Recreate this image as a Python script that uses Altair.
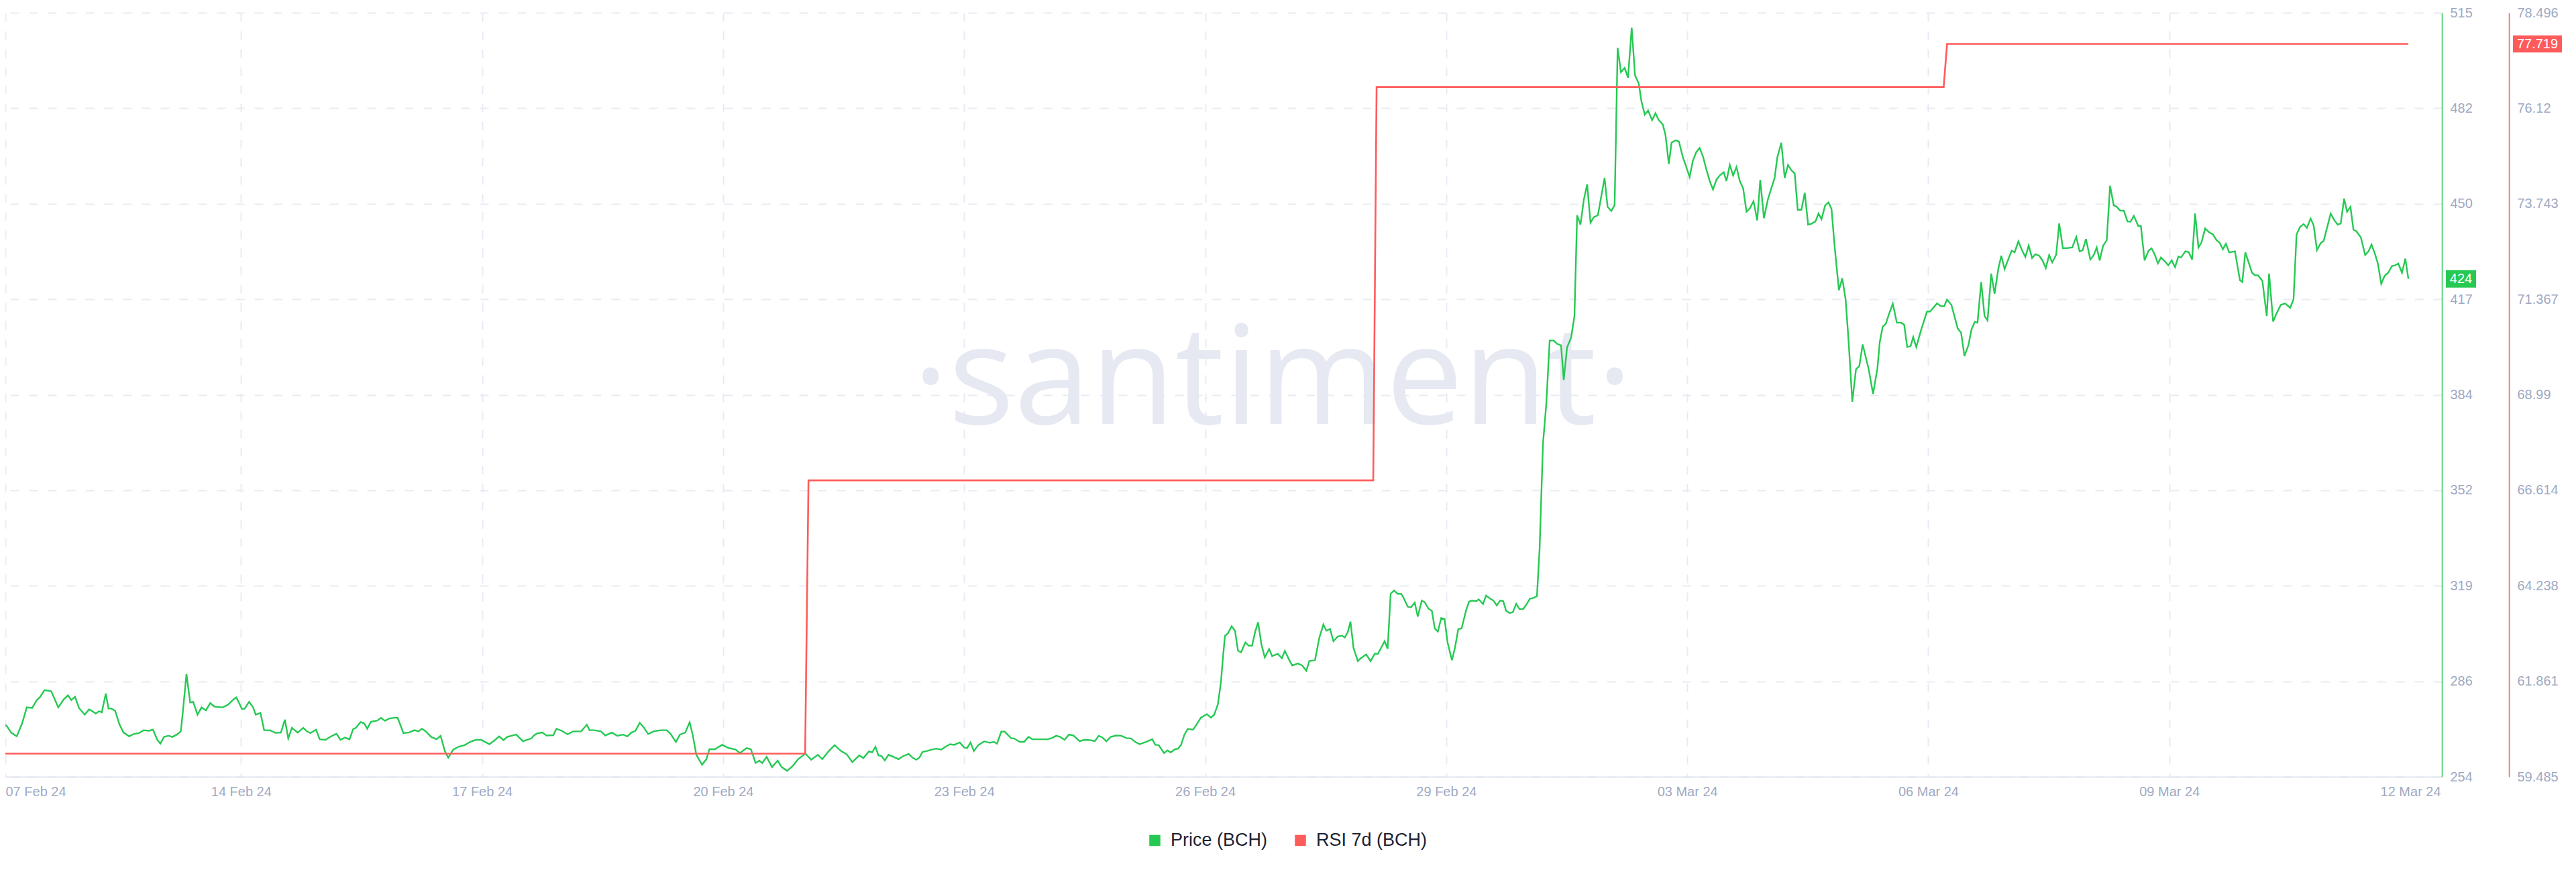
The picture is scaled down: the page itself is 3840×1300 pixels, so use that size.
import altair as alt
import pandas as pd

GREEN = "#26c953"
RED = "#ff5b5b"
AXIS_TEXT = "#a0a9c3"
GRID = "#e8ebf4"
FONT = "Liberation Sans"

START = pd.Timestamp("2024-02-11T00:00:00Z")

# ---------------- data (hours since 11 Feb 2024 00:00 UTC, price in USD) ----------------
price_hours_a = [1.3, 2.0, 3.3, 5.0, 6.6, 8.0, 9.6, 11.0, 12.0, 13.3,
                 15.3, 17.4, 19.1, 20.3, 21.3, 22.4, 23.6, 25.3, 26.6, 27.4,
                 28.6, 29.6, 30.4, 31.6, 32.4, 33.2, 34.4, 35.7, 36.9, 38.6,
                 39.9, 41.5, 42.9, 44.5, 45.7, 47.0, 47.9, 49.0, 50.3, 51.5,
                 52.8, 54.0, 54.5, 55.7, 56.8, 57.7, 59.0, 60.2, 61.5, 62.8,
                 64.0, 66.5, 68.1, 69.8, 70.6, 72.3, 73.1, 74.4, 75.6, 76.4,
                 77.8, 78.9, 80.6, 82.3, 83.9, 85.1, 86.1, 87.2, 88.9, 90.6,
                 91.7, 92.7, 94.4, 95.5, 97.2, 98.9, 100.5, 101.7, 103.0, 104.4,
                 105.5, 106.3, 107.7, 108.8, 109.7, 110.8, 112.7, 113.8, 115.0, 116.3,
                 118.0, 118.8, 120.5, 122.1, 123.8, 125.0, 126.0, 127.1, 128.8, 130.4,
                 131.6, 132.9, 133.9, 135.4, 137.1, 138.8, 140.4, 142.1, 143.7, 145.4,
                 146.2, 147.9, 149.1, 150.4, 151.5, 154.2, 156.2, 158.7, 159.5, 160.4,
                 162.0, 163.2, 165.3, 166.2, 167.8, 169.5, 171.2, 173.6, 175.3, 176.1,
                 177.5, 179.5, 180.8, 182.8, 184.4, 186.1, 187.4, 188.6, 189.8, 191.1,
                 192.4, 193.6, 195.2, 197.4, 199.1, 200.2, 201.9, 203.1, 204.7, 206.0,
                 206.9, 208.0, 209.7, 211.0, 211.9, 213.5, 215.7, 217.7, 219.7, 221.0,
                 223.0, 224.3, 225.7, 226.8, 227.7, 229.0, 230.6, 232.3, 233.5, 235.1,
                 236.8, 238.4, 240.6, 242.3, 244.3, 245.6, 247.6, 249.3, 251.2, 252.9,
                 254.6, 256.7, 257.9, 259.6]
price_values_a = [271.8, 271.4, 269.1, 267.8, 272.2, 277.7, 277.5, 280.2, 281.3, 283.6,
                  283.2, 277.7, 280.5, 281.8, 280.2, 281.3, 277.5, 275.2, 277.0, 276.5,
                  275.6, 276.4, 276.0, 282.4, 277.3, 277.3, 276.5, 271.8, 269.1, 267.8,
                  268.6, 268.9, 269.9, 269.7, 270.1, 266.6, 265.3, 267.6, 268.0, 267.6,
                  268.4, 269.5, 274.8, 289.1, 279.4, 279.6, 275.2, 277.7, 276.7, 279.2,
                  278.0, 277.7, 278.6, 280.5, 281.1, 277.1, 277.3, 279.6, 277.7, 275.2,
                  275.8, 269.9, 269.9, 269.0, 269.1, 273.5, 267.1, 270.7, 269.1, 270.7,
                  269.5, 268.9, 270.1, 266.8, 266.6, 267.8, 268.7, 266.6, 267.4, 266.8,
                  270.3, 270.7, 272.7, 272.2, 270.4, 272.8, 273.2, 274.1, 273.1, 273.9,
                  274.2, 274.1, 268.9, 269.1, 269.9, 269.5, 270.4, 269.6, 267.6, 266.8,
                  268.0, 262.7, 260.5, 263.3, 264.3, 264.8, 265.9, 266.6, 266.6, 265.6,
                  265.1, 266.6, 267.8, 266.5, 267.6, 268.4, 266.1, 267.1, 268.1, 268.8,
                  269.1, 268.1, 268.2, 270.4, 269.7, 268.5, 269.5, 269.5, 271.8, 269.9,
                  269.9, 269.5, 268.1, 269.1, 268.0, 268.4, 267.8, 269.1, 269.7, 272.4,
                  270.7, 268.6, 269.5, 269.9, 269.9, 268.8, 265.9, 268.4, 269.1, 272.6,
                  268.4, 261.5, 258.1, 260.0, 263.4, 263.4, 264.9, 263.8, 263.3, 262.1,
                  263.8, 263.4, 258.7, 259.5, 258.7, 260.8, 257.3, 259.5, 257.3, 256.0,
                  257.7, 260.0, 261.9, 259.8, 261.5, 260.0, 262.8, 264.8, 262.8, 261.7,
                  259.0, 261.3, 260.4, 262.7]

price_hours_b = [260.5, 261.5, 262.4, 263.3, 264.3, 265.4, 266.9, 268.4, 269.7, 271.4,
                 272.6, 273.7, 274.6, 275.6, 276.9, 278.4, 279.7, 281.2, 282.5, 283.8,
                 285.0, 286.7, 288.0, 288.9, 289.9, 290.9, 292.2, 294.0, 295.6, 296.9,
                 297.8, 299.1, 300.1, 302.0, 302.9, 304.6, 305.9, 307.2, 308.4, 310.3,
                 312.9, 314.2, 315.5, 316.7, 318.0, 319.3, 320.6, 322.5, 323.8, 325.7,
                 327.0, 328.2, 329.3, 330.5, 331.8, 333.4, 334.9, 336.5, 337.8, 339.1,
                 340.4, 342.3, 344.2, 345.1, 346.1, 347.7, 348.7, 349.7, 351.0, 351.9,
                 352.8, 353.8, 354.8, 356.4, 357.4, 358.7, 360.5, 361.7, 362.7, 363.8,
                 364.7, 365.3, 365.9, 366.8, 367.9, 368.9, 369.8, 370.7, 372.0, 373.0,
                 374.0, 374.9, 375.8, 376.8, 377.8, 379.1, 380.0, 381.7, 382.9, 383.8,
                 385.1, 386.0, 387.7, 389.0, 390.2, 391.1, 392.8, 394.1, 395.3, 396.2,
                 397.3, 398.3, 399.6, 400.8, 401.7, 402.6, 403.4, 404.3, 405.6, 406.5,
                 408.1, 409.4, 410.7, 411.6, 412.9, 413.6, 414.5, 415.4, 416.4, 417.5,
                 418.5, 419.2, 420.5, 421.5, 422.6, 423.5, 424.7, 425.6, 426.7, 427.7,
                 428.6, 429.5, 430.5, 431.5, 432.4, 433.7, 434.6, 435.6, 436.6, 437.9,
                 438.8, 439.7, 441.0, 441.7, 443.0, 443.9, 445.2, 446.1, 447.1, 448.1,
                 449.0, 449.9]
price_values_b = [262.3, 264.2, 261.3, 261.1, 259.6, 261.5, 260.8, 260.0, 261.0, 261.8,
                  260.5, 259.8, 260.5, 262.5, 262.8, 263.3, 263.6, 263.3, 264.3, 265.1,
                  264.9, 265.7, 264.0, 263.8, 265.7, 262.8, 264.8, 266.1, 265.6, 265.9,
                  265.3, 269.4, 269.4, 267.2, 267.1, 265.9, 265.9, 267.6, 266.8, 266.8,
                  266.8, 267.2, 268.0, 267.6, 266.6, 268.4, 268.1, 266.1, 266.6, 266.5,
                  266.1, 268.0, 267.4, 266.1, 267.6, 268.1, 268.0, 267.2, 267.1, 265.9,
                  265.1, 265.9, 266.8, 264.9, 264.8, 262.1, 263.0, 262.3, 263.4, 263.6,
                  264.9, 268.4, 270.3, 270.1, 271.8, 274.2, 275.4, 274.2, 275.2, 278.8,
                  286.3, 294.6, 302.1, 303.0, 305.4, 303.9, 297.1, 296.5, 299.9, 298.8,
                  298.8, 303.4, 306.8, 299.2, 294.8, 297.6, 295.2, 296.0, 294.5, 297.0,
                  293.9, 292.0, 292.7, 292.0, 290.2, 293.5, 293.8, 301.5, 306.0, 303.9,
                  304.5, 300.3, 301.9, 302.2, 301.6, 303.4, 307.0, 298.0, 293.5, 294.5,
                  295.8, 293.5, 296.1, 296.0, 298.8, 300.3, 297.7, 316.5, 317.6, 316.5,
                  316.5, 315.3, 312.1, 311.9, 313.5, 308.7, 314.2, 313.6, 311.4, 310.7,
                  304.6, 303.6, 308.2, 307.9, 299.9, 293.8, 298.0, 304.4, 304.7, 310.7,
                  313.8, 314.2, 314.0, 314.6, 313.0, 315.9, 314.8, 314.2, 312.5, 314.2,
                  314.0, 310.7]

price_hours_c = [450.9, 451.9, 452.9, 453.9, 455.0, 456.1, 457.0, 458.1, 459.1, 459.9,
                 460.9, 461.9, 462.9, 464.1, 465.1, 466.3, 467.1, 468.1, 469.3, 470.3,
                 471.1, 472.1, 473.1, 474.1, 475.1, 476.1, 477.3, 479.3, 480.2, 481.3,
                 482.3, 483.2, 484.2, 485.3, 486.3, 487.4, 488.4, 489.5, 490.3, 491.3,
                 492.3, 493.5, 494.5, 495.5, 496.7, 497.5, 498.5, 499.3, 500.5, 501.5,
                 502.7, 503.7, 504.7, 505.7, 506.7, 507.7, 508.7, 509.7, 510.7, 511.7,
                 512.7, 513.7, 514.9, 515.7, 516.7, 517.7, 518.7, 519.7, 520.7, 521.7,
                 522.7, 523.8, 524.9, 525.8, 526.9, 528.1, 529.1, 530.1, 530.9, 532.1,
                 533.1, 534.1, 535.1, 536.1, 537.0, 538.1, 539.1, 540.1, 541.1]
price_values_c = [309.9, 310.2, 313.1, 311.3, 311.3, 313.1, 314.8, 315.1, 315.7, 332.0,
                  367.7, 381.5, 403.0, 403.0, 401.9, 401.4, 389.5, 400.7, 404.0, 411.3,
                  445.8, 442.6, 451.1, 456.4, 443.3, 445.2, 445.8, 458.6, 448.7, 447.3,
                  449.2, 503.0, 494.7, 496.2, 492.8, 509.9, 493.6, 490.9, 484.8, 480.2,
                  481.6, 478.3, 480.7, 478.3, 476.8, 473.2, 463.3, 470.6, 471.4, 471.0,
                  465.6, 462.3, 458.9, 464.5, 467.4, 468.8, 465.9, 461.5, 457.5, 454.6,
                  457.9, 459.4, 460.5, 457.5, 463.0, 459.4, 462.3, 457.5, 455.0, 447.0,
                  448.2, 450.6, 444.1, 457.9, 444.8, 451.3, 455.0, 458.6, 465.6, 470.6,
                  458.6, 463.0, 461.2, 460.1, 447.7, 447.7, 453.5, 442.6, 442.9]

price_hours_d = [542.3, 543.2, 544.1, 545.2, 546.2, 547.1, 548.0, 549.3, 550.3, 551.3,
                 552.2, 553.3, 554.4, 555.4, 556.4, 558.2, 559.5, 560.8, 561.5, 562.4,
                 563.3, 564.3, 565.4, 566.6, 567.9, 568.8, 569.7, 570.7, 571.5, 572.4,
                 573.9, 575.6, 576.5, 578.6, 579.7, 580.7, 581.6, 582.9, 583.8, 584.8,
                 585.8, 586.8, 588.0, 588.9, 589.9, 590.7, 591.8, 592.8, 593.7, 594.8,
                 595.8, 596.9, 597.8, 598.8, 599.9, 600.9, 601.8, 602.9, 604.0, 605.0,
                 606.0, 607.0, 608.0, 609.1, 610.1, 611.1, 612.1, 613.0, 614.2, 615.1,
                 616.2, 617.4, 619.0, 620.2, 621.2, 622.1, 623.1, 624.4, 625.4, 626.3,
                 627.2, 628.2, 629.3, 630.3, 631.4, 632.3, 633.3, 634.4, 635.5, 636.4,
                 637.4, 638.7, 639.5, 640.6, 641.8, 642.7, 643.6, 644.6, 645.5, 646.8,
                 647.7, 648.7, 649.7, 650.7, 651.5, 652.8, 653.8, 654.8, 655.7, 656.7,
                 657.6, 658.7, 659.9, 661.0, 662.1, 663.0, 664.0, 664.9, 665.9, 667.6,
                 669.1, 669.8, 670.7, 671.7, 672.7, 673.6, 674.5, 675.8, 677.1, 677.8,
                 679.0, 680.0, 681.3, 682.6, 684.1, 685.1, 686.0, 687.0, 688.1, 689.1,
                 690.2, 691.1, 692.1, 693.2, 694.1, 695.3, 696.2, 697.3, 698.3, 699.2,
                 700.2, 701.1, 702.1, 703.0, 703.9, 705.2, 706.5, 707.5, 708.4, 709.4,
                 710.3, 711.3, 712.3, 713.4, 714.5, 715.4, 716.4, 717.5, 718.5, 719.4]
price_values_d = [443.7, 446.4, 444.5, 449.2, 450.2, 447.9, 435.4, 420.2, 424.3, 417.1,
                  402.7, 382.1, 393.2, 394.3, 401.7, 393.2, 384.8, 393.5, 402.5, 407.8,
                  408.7, 412.2, 415.6, 409.1, 409.1, 408.4, 400.8, 401.1, 404.2, 400.8,
                  406.8, 412.9, 412.9, 415.7, 414.8, 414.7, 417.0, 415.2, 411.4, 407.1,
                  405.7, 397.7, 401.5, 406.8, 409.4, 409.1, 423.0, 411.4, 409.9, 425.9,
                  419.0, 427.4, 432.0, 427.4, 430.8, 433.7, 433.2, 436.9, 433.9, 431.6,
                  435.5, 431.2, 432.5, 432.0, 430.4, 427.8, 432.2, 429.7, 432.3, 443.0,
                  434.6, 434.6, 434.8, 438.4, 433.5, 433.8, 437.7, 430.7, 432.2, 434.8,
                  430.4, 435.4, 437.3, 455.9, 449.2, 448.7, 447.4, 447.4, 443.7, 443.6,
                  445.6, 442.2, 442.2, 430.4, 433.7, 434.5, 432.5, 429.4, 431.4, 429.9,
                  428.7, 430.4, 428.1, 431.7, 431.4, 433.5, 433.2, 430.7, 446.4, 434.8,
                  436.5, 441.3, 440.0, 439.3, 437.3, 436.5, 434.2, 436.1, 433.1, 433.5,
                  423.6, 423.0, 433.1, 429.7, 426.2, 425.3, 425.3, 423.4, 411.4, 425.9,
                  409.5, 412.2, 415.2, 415.7, 414.2, 417.1, 439.2, 441.8, 442.8, 441.5,
                  444.7, 442.4, 433.9, 436.3, 437.1, 442.4, 446.4, 444.1, 442.6, 443.0,
                  451.5, 447.0, 448.7, 440.9, 440.3, 438.3, 432.2, 433.5, 435.8, 432.7,
                  429.3, 422.4, 425.1, 426.2, 428.5, 428.7, 429.3, 426.2, 431.0, 424.1]

rsi_hours = [0.0, 240.5, 241.5, 410.2, 411.2, 580.6, 581.6, 719.4]
rsi_values = [60.06, 60.06, 66.86, 66.86, 76.65, 76.65, 77.719, 77.719]

series_names = ["Price (BCH)", "RSI 7d (BCH)"]

price_ticks = [254, 286.625, 319.25, 351.875, 384.5, 417.125, 449.75, 482.375, 515]
price_tick_labels = ["254", "286", "319", "352", "384", "417", "450", "482", "515"]
rsi_ticks = [59.485, 61.861, 64.238, 66.614, 68.990, 71.367, 73.743, 76.120, 78.496]
rsi_tick_labels = ["59.485", "61.861", "64.238", "66.614", "68.99", "71.367", "73.743", "76.12", "78.496"]
x_tick_hours = [1.6, 72, 144, 216, 288, 360, 432, 504, 576, 648, 720]
x_tick_labels = ["07 Feb 24", "14 Feb 24", "17 Feb 24", "20 Feb 24", "23 Feb 24", "26 Feb 24",
                 "29 Feb 24", "03 Mar 24", "06 Mar 24", "09 Mar 24", "12 Mar 24"]
x_domain_hours = [1.6, 729.4]


# ---------------- helpers ----------------
def to_iso(hours):
    return [(START + pd.Timedelta(hours=h)).strftime("%Y-%m-%dT%H:%M:%SZ") for h in hours]


def to_ms(h):
    return int((START + pd.Timedelta(hours=h)).value // 10**6)


def ternary(values, labels):
    expr = f"'{labels[-1]}'"
    for i in range(len(values) - 2, -1, -1):
        mid = (values[i] + values[i + 1]) / 2
        expr = f"datum.value < {mid} ? '{labels[i]}' : ({expr})"
    return expr


price_hours = price_hours_a + price_hours_b + price_hours_c + price_hours_d
price_values = price_values_a + price_values_b + price_values_c + price_values_d

price_df = pd.DataFrame({"date": to_iso(price_hours), "value": price_values, "series": series_names[0]})
rsi_df = pd.DataFrame({"date": to_iso(rsi_hours), "value": rsi_values, "series": series_names[1]})
price_last = pd.DataFrame({"value": [price_values[-1]], "label": [f"{price_values[-1]:.0f}"]})
rsi_last = pd.DataFrame({"value": [rsi_values[-1]], "label": [f"{rsi_values[-1]:.3f}"]})
mark_df = pd.DataFrame({"t": ["·santiment·"]})

x_tick_ms = [to_ms(h) for h in x_tick_hours]

W, H = 3632, 1139

x_axis = alt.Axis(
    values=x_tick_ms, labelExpr=ternary(x_tick_ms, x_tick_labels), title=None,
    grid=True, gridDash=[13, 14], gridColor=GRID, gridWidth=2,
    gridOpacity={"condition": {"test": f"datum.value > {to_ms(700)}", "value": 0}, "value": 1},
    domainColor="#e2e6ef", domainWidth=2, ticks=False, labelPadding=12,
    labelFont=FONT, labelFontSize=20, labelColor=AXIS_TEXT, labelFlush=True,
)
x_enc = alt.X("date:T", axis=x_axis,
              scale=alt.Scale(type="utc", domain=[to_ms(x_domain_hours[0]), to_ms(x_domain_hours[1])]))

# legend squares: a tiny square stroked with a wide stroke looks like a filled square
color_enc = alt.Color(
    "series:N",
    scale=alt.Scale(domain=series_names, range=[GREEN, RED]),
    legend=alt.Legend(
        title=None, orient="none", legendX=1700, legendY=1220, direction="horizontal",
        symbolType="square", symbolSize=68, symbolStrokeWidth=8.25,
        labelFont=FONT, labelFontSize=27, labelColor="#1d2232", labelOffset=10,
        labelLimit=400, columnPadding=27, padding=0,
    ),
)

price_axis = alt.Axis(
    orient="right", values=price_ticks, labelExpr=ternary(price_ticks, price_tick_labels), title=None,
    grid=True, gridDash=[13, 15], gridColor=GRID, gridWidth=2,
    domainColor=GREEN, domainWidth=1.5, ticks=False, labelPadding=12,
    labelFont=FONT, labelFontSize=20, labelColor=AXIS_TEXT,
)
rsi_axis = alt.Axis(
    orient="right", offset=100, values=rsi_ticks, labelExpr=ternary(rsi_ticks, rsi_tick_labels), title=None,
    grid=False, domainColor=RED, domainWidth=1.5, ticks=False, labelPadding=12,
    labelFont=FONT, labelFontSize=20, labelColor=AXIS_TEXT,
)

price_scale = alt.Scale(domain=[254, 515], nice=False, zero=False)
rsi_scale = alt.Scale(domain=[59.485, 78.496], nice=False, zero=False)
price_y = alt.Y("value:Q", scale=price_scale, axis=price_axis)
rsi_y = alt.Y("value:Q", scale=rsi_scale, axis=rsi_axis)

watermark = alt.Chart(mark_df).mark_text(
    font="Open Sans", fontSize=205, color="#e6e9f2", align="center", baseline="alphabetic"
).encode(x=alt.value(1889), y=alt.value(613), text="t:N")

price_line = alt.Chart(price_df).mark_line(strokeWidth=2.4, clip=True).encode(
    x=x_enc, y=price_y, color=color_enc
)
price_badge = alt.Chart(price_last).mark_point(
    shape="M-1,-0.578H1V0.578H-1Z", filled=True, size=2025, opacity=1, color=GREEN, strokeWidth=0
).encode(x=alt.value(3660.5), y=price_y)
price_badge_text = alt.Chart(price_last).mark_text(
    color="white", font=FONT, fontSize=20, align="center", baseline="middle"
).encode(x=alt.value(3660.5), y=price_y, text="label:N")

rsi_line = alt.Chart(rsi_df).mark_line(strokeWidth=2.6, clip=True).encode(
    x=x_enc, y=rsi_y, color=color_enc
)
rsi_badge = alt.Chart(rsi_last).mark_point(
    shape="M-1,-0.351H1V0.351H-1Z", filled=True, size=5329, opacity=1, color=RED, strokeWidth=0
).encode(x=alt.value(3774.5), y=rsi_y)
rsi_badge_text = alt.Chart(rsi_last).mark_text(
    color="white", font=FONT, fontSize=20, align="center", baseline="middle"
).encode(x=alt.value(3774.5), y=rsi_y, text="label:N")

price_group = alt.layer(price_line, price_badge, price_badge_text)
rsi_group = alt.layer(rsi_line, rsi_badge, rsi_badge_text)

chart = (
    alt.layer(watermark, price_group, rsi_group)
    .resolve_scale(y="independent")
    .properties(
        width=W, height=H,
        padding={"left": 0, "top": 11, "right": 188, "bottom": 120},
        autosize=alt.AutoSizeParams(type="none"),
        background="white",
    )
    .configure_view(stroke=None)
)

chart.save("out.html", embed_options={"renderer": "svg", "actions": False})
